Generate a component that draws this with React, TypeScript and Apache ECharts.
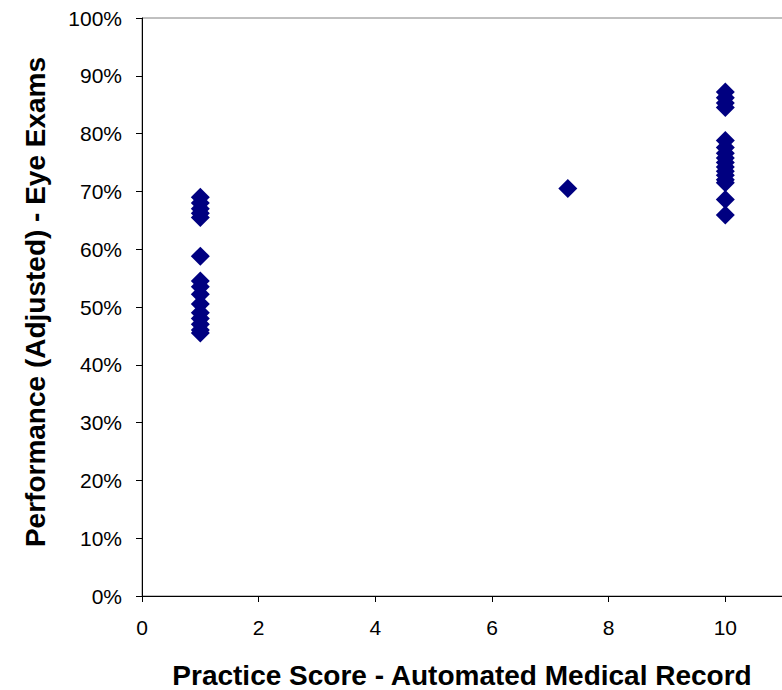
import React, { useEffect, useRef } from "react";
import * as echarts from "echarts";

const practiceScoreLow = [1, 1, 1, 1, 1, 1, 1, 1, 1, 1, 1, 1, 1, 1, 1];
const performanceLow = [69, 68, 67, 66.2, 65.5, 58.8, 54.5, 53.5, 52.2, 50.5, 49, 48, 47, 46, 45.5];
const practiceScoreMid = [7.3];
const performanceMid = [70.5];
const practiceScoreHigh = [10, 10, 10, 10, 10, 10, 10, 10, 10, 10, 10, 10, 10, 10, 10, 10];
const performanceHigh = [87.2, 86.2, 85.3, 84.5, 78.8, 77.6, 76.6, 75.8, 75, 74.2, 73.5, 72.8, 72, 71.5, 68.6, 65.9];

const xTicks = [0, 2, 4, 6, 8, 10, 12];
const yTickStep = 10;
const xTitle = "Practice Score - Automated Medical Record";
const yTitle = "Performance (Adjusted) - Eye Exams";

function pairs(xs: number[], ys: number[]) {
  return xs.map((x, i) => [x, ys[i]]);
}

export default function App() {
  const ref = useRef<HTMLDivElement>(null);
  useEffect(() => {
    if (!ref.current) return;
    const chart = echarts.init(ref.current, null, { renderer: "svg" });
    const font = "'Liberation Sans', Arial, sans-serif";
    const data = [
      ...pairs(practiceScoreLow, performanceLow),
      ...pairs(practiceScoreMid, performanceMid),
      ...pairs(practiceScoreHigh, performanceHigh),
    ];
    chart.setOption({
      animation: false,
      backgroundColor: "#ffffff",
      grid: {
        left: 142,
        top: 18,
        bottom: 94,
        right: 58,
        show: true,
        borderColor: "#808080",
        borderWidth: 1,
        containLabel: false,
      },
      xAxis: {
        type: "value",
        min: xTicks[0],
        max: xTicks[xTicks.length - 1],
        interval: 2,
        axisLine: { show: true, onZero: false, lineStyle: { color: "#000", width: 1 } },
        axisTick: { show: true, inside: false, length: 6, lineStyle: { color: "#000" } },
        splitLine: { show: false },
        axisLabel: { color: "#000", fontSize: 21, fontFamily: font, margin: 21, showMaxLabel: false },
      },
      yAxis: {
        type: "value",
        min: 0,
        max: 100,
        interval: yTickStep,
        axisLine: { show: true, lineStyle: { color: "#000", width: 1 } },
        axisTick: { show: true, inside: false, length: 6, lineStyle: { color: "#000" } },
        splitLine: { show: false },
        axisLabel: { color: "#000", fontSize: 21, fontFamily: font, margin: 20, formatter: "{value}%" },
      },
      series: [
        {
          type: "scatter",
          symbol: "diamond",
          symbolSize: 19,
          itemStyle: { color: "#000080", opacity: 1 },
          data,
        },
      ],
      graphic: [
        {
          type: "text",
          x: 462,
          y: 675,
          style: {
            text: xTitle,
            fill: "#000",
            font: `bold 28px ${font}`,
            textAlign: "center",
            textVerticalAlign: "middle",
          },
        },
        {
          type: "text",
          x: 35,
          y: 302,
          rotation: Math.PI / 2,
          style: {
            text: yTitle,
            fill: "#000",
            font: `bold 28px ${font}`,
            textAlign: "center",
            textVerticalAlign: "middle",
          },
        },
      ],
    });
    return () => chart.dispose();
  }, []);
  return (
    <div style={{ position: "fixed", left: 0, top: 0, width: 782, height: 690, overflow: "hidden", background: "#fff" }}>
      <div ref={ref} style={{ width: 900, height: 690 }} />
    </div>
  );
}
